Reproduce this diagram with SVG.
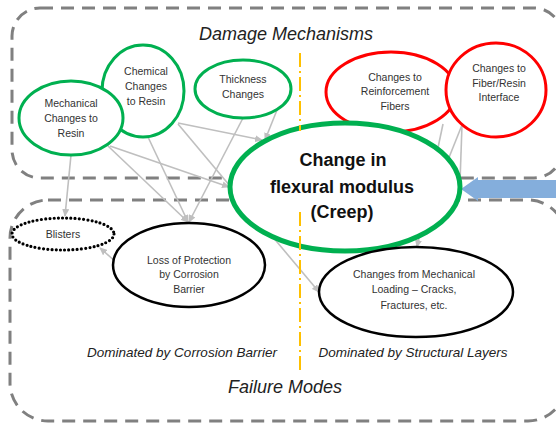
<svg xmlns="http://www.w3.org/2000/svg" width="556" height="425" viewBox="0 0 556 425">
<style>
.box{fill:none;stroke:#808080;stroke-width:3;stroke-dasharray:13 8}
.div{fill:none;stroke:#FFC000;stroke-width:2;stroke-dasharray:14 4 2 4}
.g{fill:#fff;stroke:#00B050;stroke-width:3}
.r{fill:#fff;stroke:#FF0000;stroke-width:3}
.k{fill:#fff;stroke:#000;stroke-width:2.5}
.c{fill:none;stroke:#BFBFBF;stroke-width:1.6}
.ca{marker-end:url(#ah)}
text{font-family:"Liberation Sans",Arial,sans-serif;fill:#333;text-anchor:middle}
.s{font-size:10.5px}
.big{font-size:18px;font-weight:bold;fill:#111}
.it{font-style:italic;fill:#222}
</style>
<defs>
<marker id="ah" markerUnits="userSpaceOnUse" markerWidth="8" markerHeight="7" refX="7" refY="3.5" orient="auto">
<path d="M0,0 L8,3.5 L0,7 z" fill="#BFBFBF"/>
</marker>
</defs>
<g id="regions">
<rect class="box" x="12" y="8" width="550" height="170" rx="28"/>
<rect class="box" x="10" y="200" width="556" height="221" rx="38"/>
</g>
<g id="labels">
<text class="it" x="286" y="40" font-size="18">Damage Mechanisms</text>
<text class="it" x="182" y="357" font-size="13.5">Dominated by Corrosion Barrier</text>
<text class="it" x="413" y="357" font-size="13.5">Dominated by Structural Layers</text>
<text class="it" x="285" y="393" font-size="18">Failure Modes</text>
</g>
<g id="connectors">
<line class="c ca" x1="71" y1="155" x2="65" y2="216"/>
<line class="c ca" x1="108" y1="146" x2="188" y2="222"/>
<line class="c ca" x1="110" y1="146" x2="229" y2="187"/>
<line class="c ca" x1="148" y1="137" x2="188" y2="222"/>
<line class="c ca" x1="178" y1="123" x2="262" y2="140"/>
<line class="c ca" x1="178" y1="124" x2="319" y2="292"/>
<line class="c ca" x1="243" y1="118" x2="189" y2="222"/>
<line class="c ca" x1="277" y1="110" x2="265" y2="140"/>
<line class="c ca" x1="443" y1="124" x2="417" y2="247"/>
<line class="c" x1="462" y1="125" x2="420" y2="230"/>
<line class="c" x1="462" y1="125" x2="460" y2="182"/>
<line class="c" x1="345" y1="116" x2="375" y2="170"/>
<line class="c ca" x1="116" y1="262" x2="100" y2="248"/>
</g>
<g id="blue-arrow">
<polygon points="556,180 478,180 478,177 461,189 478,201 478,198 556,198" fill="#84AEDC"/>
</g>
<g id="chemical">
<ellipse class="g" cx="143" cy="91" rx="41" ry="46"/>
<text class="s" x="146" y="75">Chemical</text>
<text class="s" x="146" y="90">Changes</text>
<text class="s" x="146" y="105">to Resin</text>
</g>
<g id="mechanical">
<ellipse class="g" cx="71" cy="118" rx="52" ry="37"/>
<text class="s" x="71" y="107">Mechanical</text>
<text class="s" x="71" y="122">Changes to</text>
<text class="s" x="71" y="137">Resin</text>
</g>
<g id="thickness">
<ellipse class="g" cx="243" cy="89" rx="48" ry="29"/>
<text class="s" x="243" y="83">Thickness</text>
<text class="s" x="243" y="98">Changes</text>
</g>
<g id="reinforcement">
<ellipse class="r" cx="391" cy="92" rx="65" ry="40"/>
<text class="s" x="395" y="81">Changes to</text>
<text class="s" x="395" y="95">Reinforcement</text>
<text class="s" x="395" y="110">Fibers</text>
</g>
<g id="interface">
<ellipse class="r" cx="496" cy="90" rx="50" ry="47"/>
<text class="s" x="499" y="72">Changes to</text>
<text class="s" x="499" y="87">Fiber/Resin</text>
<text class="s" x="499" y="101">Interface</text>
</g>
<g id="creep">
<ellipse cx="345" cy="187" rx="115" ry="64" fill="#fff" stroke="#00B050" stroke-width="5"/>
<text class="big" x="343" y="166">Change in</text>
<text class="big" x="342" y="193">flexural modulus</text>
<text class="big" x="342" y="218">(Creep)</text>
</g>
<g id="divider">
<line class="div" x1="300" y1="53" x2="300" y2="131"/>
<line class="div" x1="300" y1="212" x2="300" y2="370"/>
</g>
<g id="blisters">
<ellipse cx="63" cy="234" rx="51" ry="16" fill="#fff" stroke="#000" stroke-width="3.2" stroke-dasharray="0 4.2" stroke-linecap="round"/>
<text class="s" x="63" y="238">Blisters</text>
</g>
<g id="loss">
<ellipse class="k" cx="189" cy="265" rx="76" ry="42"/>
<text class="s" x="189" y="264">Loss of Protection</text>
<text class="s" x="189" y="278">by Corrosion</text>
<text class="s" x="189" y="293">Barrier</text>
</g>
<g id="mechloading">
<ellipse class="k" cx="416" cy="292" rx="97" ry="45"/>
<text class="s" x="414" y="278">Changes from Mechanical</text>
<text class="s" x="414" y="293">Loading – Cracks,</text>
<text class="s" x="414" y="309">Fractures, etc.</text>
</g>
</svg>
